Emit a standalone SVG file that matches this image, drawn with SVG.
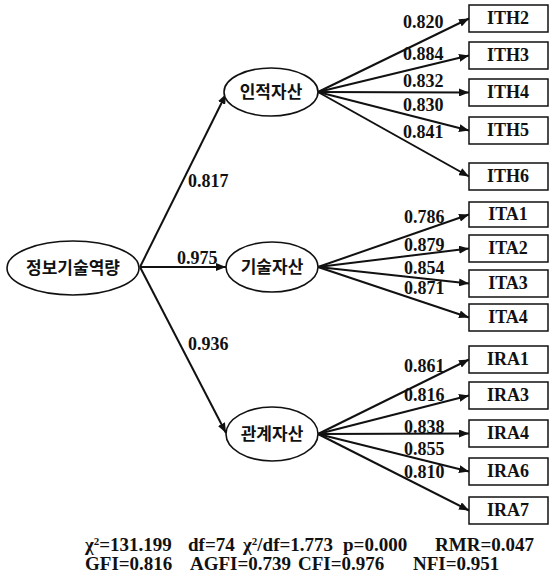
<svg xmlns="http://www.w3.org/2000/svg" width="550" height="586" viewBox="0 0 550 586">
  <style>
    .lat { fill: #fff; stroke: #111; stroke-width: 1.6; }
    .obs { fill: #fff; stroke: #111; stroke-width: 1.5; }
    .kr { font-family: "Noto Sans CJK KR", "Noto Sans", sans-serif; font-weight: bold; font-size: 17px; fill: #111; text-anchor: middle; }
    .lbl { font-family: "Liberation Serif", "Times New Roman", serif; font-weight: bold; font-size: 18px; fill: #111; }
    .fit { font-family: "Liberation Serif", "Times New Roman", serif; font-weight: bold; font-size: 19px; fill: #111; }
    .box { font-family: "Liberation Serif", "Times New Roman", serif; font-weight: bold; font-size: 18px; fill: #111; text-anchor: middle; }
    .edge { stroke: #111; stroke-width: 2; fill: none; marker-end: url(#arrow); }
  </style>
  <defs>
    <marker id="arrow" viewBox="0 0 10 8" refX="10" refY="4" markerWidth="5" markerHeight="4" orient="auto" markerUnits="strokeWidth">
      <path d="M0,0 L10,4 L0,8 z" fill="#111"/>
    </marker>
  </defs>
  <rect width="550" height="586" fill="#fff"/>

  <g id="connectors">
    <!-- second-order factor to first-order factors -->
    <line class="edge" x1="140" y1="267" x2="226" y2="94"/>
    <line class="edge" x1="140" y1="267" x2="226" y2="267"/>
    <line class="edge" x1="140" y1="267" x2="226" y2="433"/>
    <!-- 인적자산 indicators -->
    <line class="edge" x1="318" y1="92" x2="469" y2="18.5"/>
    <line class="edge" x1="318" y1="92" x2="469" y2="55.5"/>
    <line class="edge" x1="318" y1="92" x2="469" y2="92.5"/>
    <line class="edge" x1="318" y1="92" x2="469" y2="130.5"/>
    <line class="edge" x1="318" y1="92" x2="469" y2="176.5"/>
    <!-- 기술자산 indicators -->
    <line class="edge" x1="318" y1="267" x2="469" y2="214.5"/>
    <line class="edge" x1="318" y1="267" x2="469" y2="248.5"/>
    <line class="edge" x1="318" y1="267" x2="469" y2="283.5"/>
    <line class="edge" x1="318" y1="267" x2="469" y2="317.5"/>
    <!-- 관계자산 indicators -->
    <line class="edge" x1="318" y1="434" x2="469" y2="359.5"/>
    <line class="edge" x1="318" y1="434" x2="469" y2="395.5"/>
    <line class="edge" x1="318" y1="434" x2="469" y2="433.5"/>
    <line class="edge" x1="318" y1="434" x2="469" y2="471.5"/>
    <line class="edge" x1="318" y1="434" x2="469" y2="510.5"/>
  </g>

  <g id="path-labels">
    <text class="lbl" x="188" y="187">0.817</text>
    <text class="lbl" x="177" y="264">0.975</text>
    <text class="lbl" x="188" y="350">0.936</text>

    <text class="lbl" x="403" y="28">0.820</text>
    <text class="lbl" x="403" y="60">0.884</text>
    <text class="lbl" x="403" y="87">0.832</text>
    <text class="lbl" x="403" y="111">0.830</text>
    <text class="lbl" x="403" y="138">0.841</text>

    <text class="lbl" x="404" y="223">0.786</text>
    <text class="lbl" x="404" y="251">0.879</text>
    <text class="lbl" x="404" y="274">0.854</text>
    <text class="lbl" x="404" y="294">0.871</text>

    <text class="lbl" x="404" y="372">0.861</text>
    <text class="lbl" x="404" y="401">0.816</text>
    <text class="lbl" x="404" y="433">0.838</text>
    <text class="lbl" x="404" y="455">0.855</text>
    <text class="lbl" x="404" y="478">0.810</text>
  </g>

  <g id="n-capability">
    <ellipse class="lat" cx="73" cy="268" rx="66" ry="27"/>
    <text class="kr" x="73" y="274">정보기술역량</text>
  </g>
  <g id="n-human">
    <ellipse class="lat" cx="271" cy="92" rx="47" ry="24"/>
    <text class="kr" x="271" y="98">인적자산</text>
  </g>
  <g id="n-tech">
    <ellipse class="lat" cx="272" cy="267" rx="46" ry="25"/>
    <text class="kr" x="272" y="273">기술자산</text>
  </g>
  <g id="n-relation">
    <ellipse class="lat" cx="272" cy="434" rx="46" ry="27"/>
    <text class="kr" x="272" y="440">관계자산</text>
  </g>

  <g id="n-ITH2"><rect class="obs" x="469" y="5" width="79" height="27"/><text class="box" x="508" y="24">ITH2</text></g>
  <g id="n-ITH3"><rect class="obs" x="469" y="42" width="79" height="27"/><text class="box" x="508" y="61">ITH3</text></g>
  <g id="n-ITH4"><rect class="obs" x="469" y="79" width="79" height="27"/><text class="box" x="508" y="98">ITH4</text></g>
  <g id="n-ITH5"><rect class="obs" x="469" y="117" width="79" height="27"/><text class="box" x="508" y="136">ITH5</text></g>
  <g id="n-ITH6"><rect class="obs" x="469" y="163" width="79" height="27"/><text class="box" x="508" y="182">ITH6</text></g>

  <g id="n-ITA1"><rect class="obs" x="469" y="202" width="79" height="25"/><text class="box" x="508" y="220">ITA1</text></g>
  <g id="n-ITA2"><rect class="obs" x="469" y="235" width="79" height="27"/><text class="box" x="508" y="254">ITA2</text></g>
  <g id="n-ITA3"><rect class="obs" x="469" y="270" width="79" height="27"/><text class="box" x="508" y="289">ITA3</text></g>
  <g id="n-ITA4"><rect class="obs" x="469" y="304" width="79" height="27"/><text class="box" x="508" y="323">ITA4</text></g>

  <g id="n-IRA1"><rect class="obs" x="469" y="346" width="79" height="27"/><text class="box" x="508" y="365">IRA1</text></g>
  <g id="n-IRA3"><rect class="obs" x="469" y="382" width="79" height="27"/><text class="box" x="508" y="401">IRA3</text></g>
  <g id="n-IRA4"><rect class="obs" x="469" y="420" width="79" height="27"/><text class="box" x="508" y="439">IRA4</text></g>
  <g id="n-IRA6"><rect class="obs" x="469" y="458" width="79" height="27"/><text class="box" x="508" y="477">IRA6</text></g>
  <g id="n-IRA7"><rect class="obs" x="469" y="497" width="79" height="27"/><text class="box" x="508" y="516">IRA7</text></g>

  <g id="fit-indices" class="fit">
    <text x="85" y="551">χ<tspan font-size="11" dy="-6">2</tspan><tspan dy="6">=131.199</tspan></text>
    <text x="188" y="551">df=74</text>
    <text x="243" y="551">χ<tspan font-size="11" dy="-6">2</tspan><tspan dy="6">/df=1.773</tspan></text>
    <text x="343" y="551">p=0.000</text>
    <text x="435" y="551">RMR=0.047</text>
    <text x="85" y="570">GFI=0.816</text>
    <text x="190" y="570">AGFI=0.739</text>
    <text x="298" y="570">CFI=0.976</text>
    <text x="413" y="570">NFI=0.951</text>
  </g>
</svg>
